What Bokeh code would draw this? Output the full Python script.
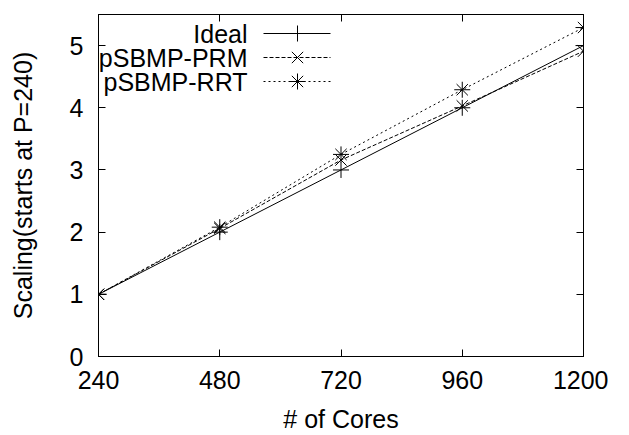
from bokeh.plotting import figure
from bokeh.models import LinearAxis, Range1d, FixedTicker, Label
from bokeh.embed import file_html
from bokeh.resources import INLINE

cores = [240, 480, 720, 960, 1200]
ideal = [1, 2, 3, 4, 5]
prm = [1, 2.06, 3.16, 4.03, 4.91]
rrt = [1, 2.08, 3.25, 4.29, 5.29]
x_ticks = [240, 480, 720, 960, 1200]
y_ticks = [0, 1, 2, 3, 4, 5]

FONT = "Liberation Sans"
FS = "25px"

p = figure(width=608, height=435, output_backend="svg", toolbar_location=None,
           x_range=Range1d(240, 1200), y_range=Range1d(0, 5.5),
           min_border_left=98, min_border_right=25, min_border_top=14, min_border_bottom=79)
p.grid.visible = False
p.outline_line_color = "black"
p.outline_line_alpha = 1
p.outline_line_width = 1
p.background_fill_color = "white"
p.border_fill_color = "white"

for ax in [p.xaxis[0], p.yaxis[0]]:
    ax.major_tick_in = 7
    ax.major_tick_out = 0
    ax.minor_tick_line_color = None
    ax.axis_line_color = "black"
    ax.major_tick_line_color = "black"
    ax.major_label_text_font = FONT
    ax.major_label_text_font_size = FS
    ax.major_label_text_color = "black"
    ax.axis_label_text_font = FONT
    ax.axis_label_text_font_size = FS
    ax.axis_label_text_font_style = "normal"
    ax.axis_label_text_color = "black"

p.xaxis[0].ticker = FixedTicker(ticks=x_ticks)
p.yaxis[0].ticker = FixedTicker(ticks=y_ticks)
p.xaxis[0].axis_label = "# of Cores"
p.yaxis[0].axis_label = "Scaling(starts at P=240)"
p.xaxis[0].major_label_standoff = 14
p.yaxis[0].major_label_standoff = 15
p.xaxis[0].axis_label_standoff = 13
p.yaxis[0].axis_label_standoff = 30

for loc, tk in [("right", y_ticks), ("above", x_ticks)]:
    a = LinearAxis(ticker=FixedTicker(ticks=tk))
    a.major_tick_in = 7
    a.major_tick_out = 0
    a.minor_tick_line_color = None
    a.major_label_overrides = {t: "" for t in tk}
    a.major_label_standoff = 0
    a.axis_line_color = "black"
    a.major_tick_line_color = "black"
    p.add_layout(a, loc)

MS = 16
p.line(cores, ideal, line_color="black", line_width=1)
p.scatter(cores, ideal, marker="cross", size=MS, line_color="black", line_width=1)
p.line(cores, prm, line_color="black", line_width=1, line_dash="4 2")
p.scatter(cores, prm, marker="x", size=MS, line_color="black", line_width=1)
p.line(cores, rrt, line_color="black", line_width=1, line_dash="2 3")
p.scatter(cores, rrt, marker="asterisk", size=MS, line_color="black", line_width=1)

# legend (gnuplot style: right-aligned text, sample on the right)
# frame geometry in canvas pixels
FL, FR, FT, FB = 98.0, 583.0, 14.0, 356.0
def dx(px):
    return 240 + (px - FL) / (FR - FL) * 960
def dy(py):
    return 5.5 * (FB - py) / (FB - FT)

names = ["Ideal", "pSBMP-PRM", "pSBMP-RRT"]
markers = ["cross", "x", "asterisk"]
dashes = ["solid", "4 2", "2 3"]
rows = [33.0, 57.0, 81.0]
for name, mk, ds, ry in zip(names, markers, dashes, rows):
    p.add_layout(Label(x=dx(247), y=dy(ry), text=name, text_align="right",
                       text_baseline="middle",
                       text_font=FONT, text_font_size=FS, text_color="black"))
    p.line([dx(263), dx(330)], [dy(ry), dy(ry)], line_color="black", line_width=1, line_dash=ds)
    p.scatter([dx(297)], [dy(ry)], marker=mk, size=MS, line_color="black", line_width=1)

open("out.html", "w").write(file_html(p, INLINE))
